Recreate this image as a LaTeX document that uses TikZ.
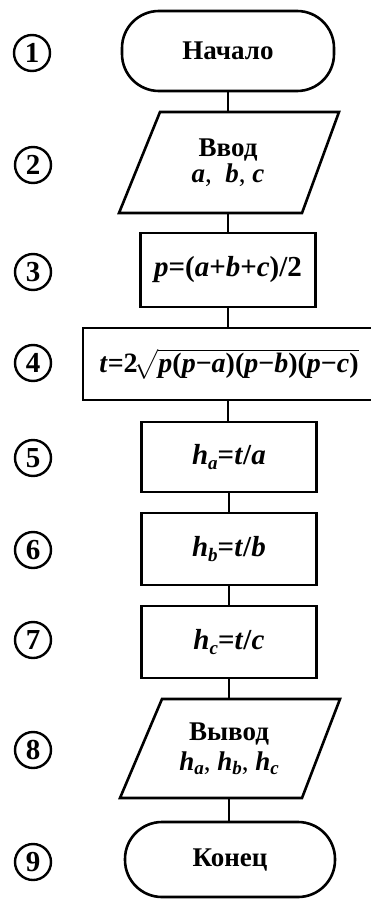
\documentclass[tikz,border=0pt]{standalone}
\usepackage{exscale}
\usepackage{fontspec}
\setmainfont{Liberation Serif}
\usetikzlibrary{calc}
\newcommand\vb[1]{\textbf{\textit{#1}}}
\newcommand\hs[2]{\textbf{\textit{#1}}\raisebox{-0.32ex}{\fontsize{19}{19}\selectfont\textbf{\textit{#2}}}}
\begin{document}
\begin{tikzpicture}[x=1pt,y=-1pt,
  lw/.style={line width=2.6pt},
  txt/.style={font=\fontsize{27}{26}\selectfont},
  ftxt/.style={font=\fontsize{29}{30}\selectfont},
  term/.style={draw, lw, txt, rounded corners=37pt, minimum width=212pt, minimum height=80pt, inner sep=0pt},
  proc/.style={draw, lw, ftxt, rectangle, minimum width=175pt, minimum height=72pt, inner sep=0pt},
  io/.style={txt, align=center, minimum width=180pt, minimum height=100pt, inner sep=0pt},
  num/.style={draw, circle, line width=2.4pt, minimum size=36pt, inner sep=0pt, font=\fontsize{29}{29}\selectfont\bfseries},
  conn/.style={lw}]
\useasboundingbox (0,0) rectangle (370,899);
\fill[white] (0,0) rectangle (370,899);

% blocks
\node[term] (b1) at (228,51) {\textbf{Начало}};
\node[io] (b2) at (228,162.5) {\textbf{Ввод}\\\vb{a}, \ \vb{b}, \vb{c}};
\draw[lw] (160,112) -- (339,112) -- (302,213) -- (119,213) -- cycle;
\node[proc, minimum height=74pt] (b3) at (228,270) {\vb{p}\textbf{=(}\vb{a}\textbf{+}\vb{b}\textbf{+}\vb{c}\textbf{)/2}};
\node[proc, minimum width=292pt, font=\fontsize{28}{30}\selectfont] (b4) at (229,364) {\vb{t}\textbf{=2}$\!\sqrt{\hbox{\vb{p}\textbf{(}\vb{p}\textbf{−}\vb{a}\textbf{)(}\vb{p}\textbf{−}\vb{b}\textbf{)(}\vb{p}\textbf{−}\vb{c}\textbf{)}}}$};
\node[proc, minimum height=70pt] (b5) at (229,457) {\hs{h}{a}\textbf{=}\vb{t}\textbf{/}\vb{a}};
\node[proc] (b6) at (229,549) {\hs{h}{b}\textbf{=}\vb{t}\textbf{/}\vb{b}};
\node[proc] (b7) at (229,642) {\hs{h}{c}\textbf{=}\vb{t}\textbf{/}\vb{c}};
\node[io, minimum height=99pt] (b8) at (229,748.5) {\textbf{Вывод}\\[4pt]\hs{h}{a}, \hs{h}{b}, \hs{h}{c}};
\draw[lw] (162,699) -- (340,699) -- (302,798) -- (120,798) -- cycle;
\node[term, minimum width=210pt, minimum height=75pt] (b9) at (230,859.5) {\textbf{Конец}};

% connectors
\draw[conn] (b1.south) -- (b1.south |- b2.north);
\draw[conn] (b2.south) -- (b2.south |- b3.north);
\draw[conn] (b3.south) -- (b3.south |- b4.north);
\draw[conn] (b3.south |- b4.south) -- (b3.south |- b5.north);
\draw[conn] (b5.south) -- (b5.south |- b6.north);
\draw[conn] (b6.south) -- (b6.south |- b7.north);
\draw[conn] (b7.south) -- (b7.south |- b8.north);
\draw[conn] (b8.south) -- (b8.south |- b9.north);

% numbers
\node[num] (c1) at (32,53) {1};
\node[num] (c2) at (33,165) {2};
\node[num] (c3) at (33,272) {3};
\node[num] (c4) at (33,363) {4};
\node[num] (c5) at (33,458) {5};
\node[num] (c6) at (33,550) {6};
\node[num] (c7) at (33,640) {7};
\node[num] (c8) at (33,750) {8};
\node[num] (c9) at (33,862) {9};
\end{tikzpicture}
\end{document}
